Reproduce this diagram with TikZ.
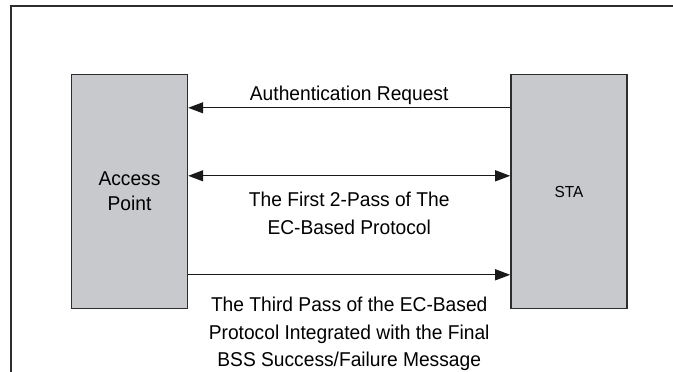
\documentclass[tikz,border=0pt]{standalone}
\usepackage{fontspec}
\setmainfont{Liberation Sans}[FakeStretch=0.96]
\usepackage{tikz}
\usetikzlibrary{positioning,arrows.meta}
\definecolor{griscaja}{RGB}{200,201,204}
\definecolor{borde}{RGB}{45,45,45}
\tikzset{caja/.style={draw=borde, fill=griscaja, line width=1.4pt, minimum width=116pt, minimum height=234pt, inner sep=0pt, align=center}}
\tikzset{flecha/.style={line width=1.2pt, draw=black!90}}
\tikzset{punta/.tip={Triangle[length=15pt,width=11pt]}}
\tikzset{etiqueta/.style={midway, draw=none, fill=none, align=center, inner sep=3pt, font=\fontsize{20}{27.5}\selectfont}}

\begin{document}
\begin{tikzpicture}[x=1pt, y=-1pt]
    \useasboundingbox (0,0) rectangle (673,372);
    \draw[line width=1.8pt, color=borde] (11,372) -- (11,6) -- (673,6);

    \node[caja, font=\fontsize{20}{25}\selectfont] (ap) at (129.5,191.5) {Access\\Point};
    \node[caja, right=322pt of ap, font=\fontsize{16}{20}\selectfont] (sta) {STA};

    \draw[flecha, -punta]    ([yshift=-34pt]sta.north west)  to node[etiqueta, above]{Authentication Request} ([yshift=-34pt]ap.north east);
    \draw[flecha, punta-punta] ([yshift=-102pt]ap.north east) to node[etiqueta, below=13pt]{The First 2-Pass of The\\EC-Based Protocol} ([yshift=-102pt]sta.north west);
    \draw[flecha, -punta]    ([yshift=-201pt]ap.north east)  to node[etiqueta, below=19pt]{The Third Pass of the EC-Based\\Protocol Integrated with the Final\\BSS Success/Failure Message} ([yshift=-201pt]sta.north west);
\end{tikzpicture}
\end{document}
